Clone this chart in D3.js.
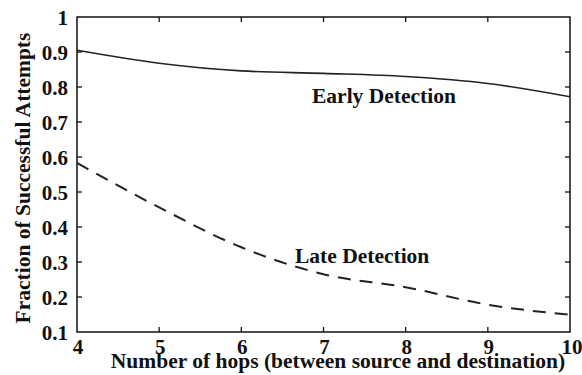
<!DOCTYPE html>
<html>
<head>
<meta charset="utf-8">
<script src="https://cdn.jsdelivr.net/npm/d3@7"></script>
<style>
  html, body { margin: 0; padding: 0; background: #fff; }
  svg { display: block; }
  text { font-family: "Liberation Serif", "DejaVu Serif", serif; font-weight: bold; fill: #111; }
</style>
</head>
<body>
<svg id="chart" width="582" height="375"></svg>
<script>
// Number of hops between source and destination
const hops = [4, 5, 6, 7, 8, 9, 10];
// Fraction of successful attempts for each detection strategy
const earlyDetection = [0.905, 0.868, 0.846, 0.839, 0.830, 0.810, 0.772];
const lateDetection  = [0.583, 0.456, 0.342, 0.265, 0.228, 0.178, 0.149];
// Axis tick values
const xTicks = [4, 5, 6, 7, 8, 9, 10];
const yTicks = [0.1, 0.2, 0.3, 0.4, 0.5, 0.6, 0.7, 0.8, 0.9, 1];

const svg = d3.select("#chart");
const plot = { left: 77, right: 570, top: 17, bottom: 332 };

const x = d3.scaleLinear().domain([4, 10]).range([plot.left, plot.right]);
const y = d3.scaleLinear().domain([0.1, 1]).range([plot.bottom, plot.top]);

// Frame
svg.append("rect")
  .attr("x", plot.left).attr("y", plot.top)
  .attr("width", plot.right - plot.left).attr("height", plot.bottom - plot.top)
  .attr("fill", "none").attr("stroke", "#111").attr("stroke-width", 1.5);

// Inward ticks on all four sides
const tickLen = 5;
const tickG = svg.append("g").attr("stroke", "#111").attr("stroke-width", 1.3);
xTicks.slice(1, -1).forEach(t => {
  tickG.append("line").attr("x1", x(t)).attr("x2", x(t)).attr("y1", plot.bottom).attr("y2", plot.bottom - tickLen);
  tickG.append("line").attr("x1", x(t)).attr("x2", x(t)).attr("y1", plot.top).attr("y2", plot.top + tickLen);
});
yTicks.slice(1, -1).forEach(t => {
  tickG.append("line").attr("x1", plot.left).attr("x2", plot.left + tickLen).attr("y1", y(t)).attr("y2", y(t));
  tickG.append("line").attr("x1", plot.right).attr("x2", plot.right - tickLen).attr("y1", y(t)).attr("y2", y(t));
});

// Tick labels
svg.append("g").selectAll("text").data(yTicks).join("text")
  .attr("x", 68).attr("y", d => y(d) + 8)
  .attr("text-anchor", "end").attr("font-size", 21)
  .text(d => d3.format("")(d));

svg.append("g").selectAll("text").data(xTicks).join("text")
  .attr("x", d => x(d) + (d === 10 ? 2 : 1)).attr("y", 354)
  .attr("text-anchor", "middle").attr("font-size", 21)
  .text(d => d);

// Axis titles
svg.append("text")
  .attr("x", 338).attr("y", 368)
  .attr("text-anchor", "middle").attr("font-size", 21.5)
  .text("Number of hops (between source and destination)");

svg.append("text")
  .attr("transform", "rotate(-90)")
  .attr("x", -178).attr("y", 30)
  .attr("text-anchor", "middle").attr("font-size", 21.5)
  .text("Fraction of Successful Attempts");

// Curves
const line = d3.line()
  .x(d => x(d[0])).y(d => y(d[1]))
  .curve(d3.curveMonotoneX);

svg.append("path")
  .datum(hops.map((h, i) => [h, earlyDetection[i]]))
  .attr("d", line)
  .attr("fill", "none").attr("stroke", "#222").attr("stroke-width", 1.6);

svg.append("path")
  .datum(hops.map((h, i) => [h, lateDetection[i]]))
  .attr("d", line)
  .attr("fill", "none").attr("stroke", "#222").attr("stroke-width", 2)
  .attr("stroke-dasharray", "13,9");

// Series labels
svg.append("text").attr("x", 312).attr("y", 103).attr("font-size", 21.5).text("Early Detection");
svg.append("text").attr("x", 295).attr("y", 263).attr("font-size", 21.5).text("Late Detection");
</script>
</body>
</html>
